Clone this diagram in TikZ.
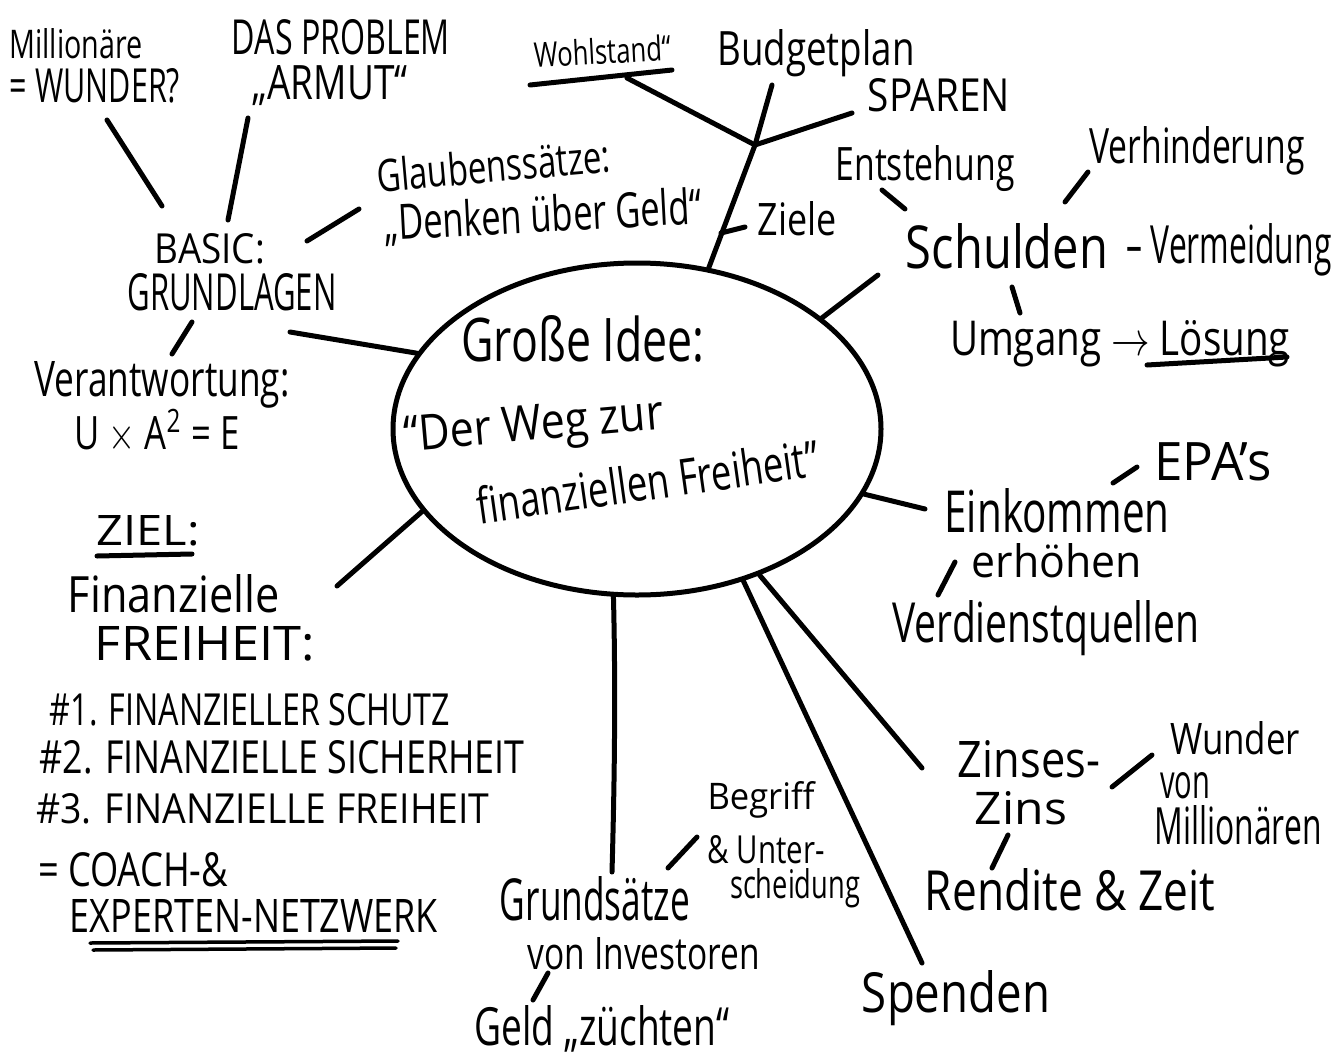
\documentclass[tikz,border=0pt]{standalone}
\usepackage{fontspec}
\setmainfont{Open Sans}
\usetikzlibrary{shapes.geometric}
\tikzset{
  pen/.style={line width=5pt, line cap=round, line join=round},
  thinpen/.style={line width=3.5pt, line cap=round},
  lbl/.style={inner sep=0pt, anchor=base},
}
% width, height (above baseline), text
\newcommand{\fw}[3]{\resizebox{#1pt}{#2pt}{#3}}
\begin{document}
\begin{tikzpicture}[x=1pt,y=-1pt]
\useasboundingbox (0,0) rectangle (1344,1063);

% central idea
\node[draw, ellipse, line width=5pt, minimum width=488pt, minimum height=332pt, inner sep=0pt] (idea) at (637,429) {};
\node[lbl] (gross) at (583,361) {\fw{243}{46}{Große Idee:}};
\node[lbl, rotate=5] (weg1) at (535,440) {\fw{260}{35}{“Der Weg zur}};
\node[lbl, rotate=8] (weg2) at (650,500) {\fw{345}{38}{finanziellen Freiheit”}};

% basics cluster
\node[lbl] (mill1) at (76,58) {\fw{133}{30}{Millionäre}};
\node[lbl] (mill2) at (95,102) {\fw{170}{34}{= WUNDER?}};
\node[lbl] (prob1) at (341,54) {\fw{218}{35}{DAS PROBLEM}};
\node[lbl] (prob2) at (330,99) {\fw{155}{34}{„ARMUT“}};
\node[lbl] (basic) at (210,263) {\fw{110}{30}{BASIC:}};
\node[lbl] (grund) at (232,310) {\fw{209}{37}{GRUNDLAGEN}};
\node[lbl, rotate=5] (glaub1) at (495,182) {\fw{234}{34}{Glaubenssätze:}};
\node[lbl, rotate=3] (glaub2) at (544,232) {\fw{318}{37}{„Denken über Geld“}};
\node[lbl] (verant) at (162,396) {\fw{255}{35}{Verantwortung:}};
\node[lbl] (uae) at (157,449) {\fw{165}{40}{U $\times$ A\textsuperscript{2} = E}};

% top cluster
\node[lbl, rotate=3] (wohl) at (603,64) {\fw{137}{26}{Wohlstand“}};
\node[lbl] (budget) at (816,65) {\fw{197}{36}{Budgetplan}};
\node[lbl] (sparen) at (939,111) {\fw{142}{33}{SPAREN}};
\node[lbl] (ziele) at (797,235) {\fw{79}{34}{Ziele}};

% debts cluster
\node[lbl] (entst) at (925,180) {\fw{179}{35}{Entstehung}};
\node[lbl] (verh) at (1197,163) {\fw{215}{37}{Verhinderung}};
\node[lbl] (schul) at (1007,268) {\fw{202}{45}{Schulden}};
\node[lbl] (verm) at (1229,263) {\fw{205}{40}{– Vermeidung}};
\node[lbl] (umg) at (1120,355) {\fw{340}{35}{Umgang $\rightarrow$ Lösung}};

% income cluster
\node[lbl] (epa) at (1213,480) {\fw{117}{38}{EPA's}};
\node[lbl] (eink) at (1057,532) {\fw{225}{44}{Einkommen}};
\node[lbl] (erh) at (1057,577) {\fw{170}{34}{erhöhen}};
\node[lbl] (verd) at (1046,642) {\fw{307}{42}{Verdienstquellen}};

% goal block
\node[lbl] (ziel) at (148,545) {\fw{103}{30}{ZIEL:}};
\node[lbl] (fin) at (174,612) {\fw{212}{38}{Finanzielle}};
\node[lbl] (frei) at (205,660) {\fw{220}{34}{FREIHEIT:}};
\node[lbl] (n1) at (250,725) {\fw{400}{32}{\#1. FINANZIELLER SCHUTZ}};
\node[lbl] (n2) at (282,773) {\fw{485}{33}{\#2. FINANZIELLE SICHERHEIT}};
\node[lbl] (n3) at (263,823) {\fw{453}{30}{\#3. FINANZIELLE FREIHEIT}};
\node[lbl] (coach) at (133,886) {\fw{190}{34}{= COACH-\&}};
\node[lbl] (exp) at (254,932) {\fw{368}{33}{EXPERTEN-NETZWERK}};

% compound interest cluster
\node[lbl] (zins1) at (1029,777) {\fw{142}{37}{Zinses-}};
\node[lbl] (zins2) at (1021,824) {\fw{92}{33}{Zins}};
\node[lbl] (wund) at (1235,754) {\fw{130}{33}{Wunder}};
\node[lbl] (von) at (1185,798) {\fw{50}{26}{von}};
\node[lbl] (millr) at (1238,844) {\fw{167}{39}{Millionären}};
\node[lbl] (rend) at (1070,910) {\fw{290}{42}{Rendite \& Zeit}};

% investors cluster
\node[lbl] (begr) at (761,809) {\fw{107}{28}{Begriff}};
\node[lbl] (unter) at (766,863) {\fw{117}{28}{\& Unter-}};
\node[lbl] (scheid) at (795,898) {\fw{130}{30}{scheidung}};
\node[lbl] (grs) at (595,920) {\fw{190}{44}{Grundsätze}};
\node[lbl] (vinv) at (644,969) {\fw{232}{32}{von Investoren}};
\node[lbl] (geld) at (602,1045) {\fw{255}{40}{Geld „züchten“}};
\node[lbl] (spend) at (956,1012) {\fw{188}{42}{Spenden}};

% coordinates of free ends
\coordinate (sL) at (290,332);
\coordinate (sLL) at (337,586);
\coordinate (br) at (755,145);
\coordinate (bW) at (627,78);
\coordinate (bB) at (772,85);
\coordinate (bS) at (852,113);
\coordinate (zA) at (721,233);
\coordinate (zB) at (745,227);
\coordinate (sUR) at (878,275);
\coordinate (sR) at (925,509);
\coordinate (sLR) at (922,768);
\coordinate (sSp) at (922,963);
\coordinate (sB) at (612,872);

% spokes
\draw[pen] (idea.66) -- (br);
\draw[pen] (br) -- (bW);
\draw[pen] (br) -- (bB);
\draw[pen] (br) -- (bS);
\draw[pen] (zA) -- (zB);
\draw[pen] (idea.161) -- (sL);
\draw[pen] (idea.201) -- (sLL);
\draw[pen] (idea.31) -- (sUR);
\draw[pen] (idea.-16) -- (sR);
\draw[pen] (idea.-50) -- (sLR);
\draw[pen] (idea.-55) -- (sSp);
\draw[pen] (idea.-98) .. controls (616,700) and (614,800) .. (sB);

% ticks
\coordinate (t1a) at (107,120); \coordinate (t1b) at (162,206);
\coordinate (t2a) at (248,118); \coordinate (t2b) at (228,220);
\coordinate (t3a) at (307,241); \coordinate (t3b) at (359,209);
\coordinate (t4a) at (192,322); \coordinate (t4b) at (172,354);
\coordinate (t5a) at (882,190); \coordinate (t5b) at (905,209);
\coordinate (t6a) at (1065,202); \coordinate (t6b) at (1088,172);
\coordinate (t7a) at (1012,287); \coordinate (t7b) at (1020,313);
\coordinate (t8a) at (1113,483); \coordinate (t8b) at (1137,467);
\coordinate (t9a) at (938,595); \coordinate (t9b) at (955,562);
\coordinate (t10a) at (1112,787); \coordinate (t10b) at (1152,755);
\coordinate (t11a) at (992,868); \coordinate (t11b) at (1008,835);
\coordinate (t12a) at (668,868); \coordinate (t12b) at (697,837);
\coordinate (t13a) at (533,1000); \coordinate (t13b) at (548,973);
\foreach \i in {1,...,13} {\draw[pen] (t\i a) -- (t\i b);}

% underlines
\coordinate (uWa) at (530,85); \coordinate (uWb) at (672,70);
\coordinate (uLa) at (1147,365); \coordinate (uLb) at (1287,357);
\coordinate (uZa) at (97,556); \coordinate (uZb) at (192,554);
\coordinate (uEa) at (90,943); \coordinate (uEb) at (398,941);
\coordinate (uFa) at (93,950); \coordinate (uFb) at (396,948);
\draw[pen] (uWa) -- (uWb);
\draw[pen] (uLa) -- (uLb);
\draw[pen] (uZa) -- (uZb);
\draw[thinpen] (uEa) -- (uEb);
\draw[thinpen] (uFa) -- (uFb);
\end{tikzpicture}
\end{document}
